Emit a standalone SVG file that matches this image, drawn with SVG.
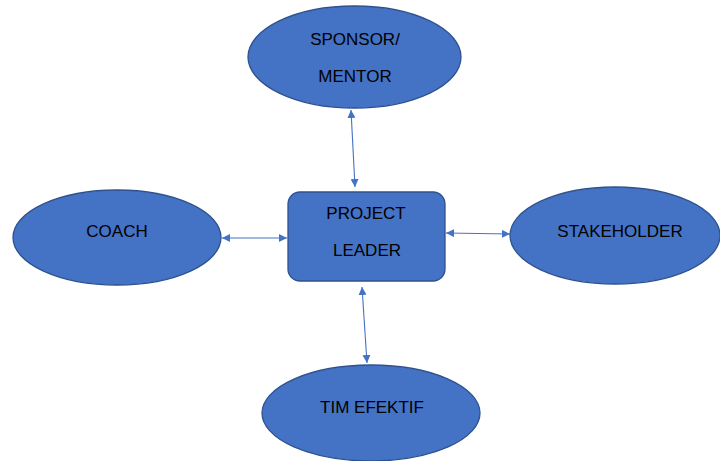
<svg xmlns="http://www.w3.org/2000/svg" width="720" height="461" viewBox="0 0 720 461">
<defs>
<marker id="ah" markerUnits="userSpaceOnUse" markerWidth="9" markerHeight="8" refX="8" refY="4" orient="auto-start-reverse">
<path d="M0,0 L8,4 L0,8 Z" fill="#4472C4"/>
</marker>
<style>
.n{fill:#4472C4;stroke:#2F528F;stroke-width:1.3}
.t{font-family:"Liberation Sans",Arial,sans-serif;font-size:17px;fill:#000;text-anchor:middle}
.c{stroke:#4472C4;stroke-width:1.1;fill:none;marker-start:url(#ah);marker-end:url(#ah)}
</style>
</defs>
<rect width="720" height="461" fill="#fff"/>
<g id="connectors">
<line class="c" x1="351" y1="110" x2="355" y2="187"/>
<line class="c" x1="222" y1="238" x2="287" y2="238"/>
<line class="c" x1="446" y1="233" x2="510" y2="234"/>
<line class="c" x1="362" y1="287" x2="367" y2="363"/>
</g>
<g id="sponsor">
<ellipse class="n" cx="354.5" cy="57" rx="106.5" ry="51"/>
<text class="t" x="355" y="45">SPONSOR/</text>
<text class="t" x="355" y="82">MENTOR</text>
</g>
<g id="leader">
<rect class="n" x="288" y="192" width="157" height="89" rx="12"/>
<text class="t" x="366" y="219">PROJECT</text>
<text class="t" x="367" y="256">LEADER</text>
</g>
<g id="coach">
<ellipse class="n" cx="117" cy="237.5" rx="104" ry="47.5"/>
<text class="t" x="117" y="237">COACH</text>
</g>
<g id="stakeholder">
<ellipse class="n" cx="615" cy="235.5" rx="105" ry="48.5"/>
<text class="t" x="620" y="237">STAKEHOLDER</text>
</g>
<g id="tim">
<ellipse class="n" cx="371" cy="413" rx="109" ry="48"/>
<text class="t" x="372" y="413">TIM EFEKTIF</text>
</g>
</svg>
